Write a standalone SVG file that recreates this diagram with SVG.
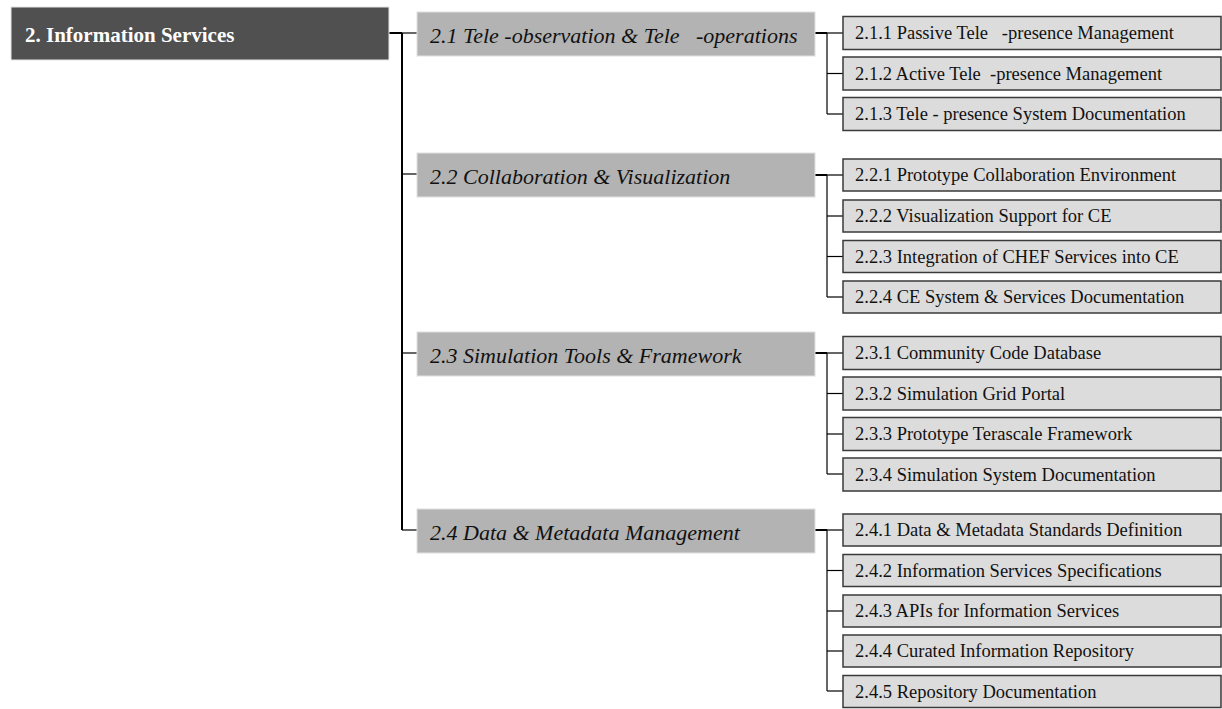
<svg xmlns="http://www.w3.org/2000/svg" width="1222" height="709" viewBox="0 0 1222 709">
<style>
.root{fill:#505050;stroke:#e6e6e6;stroke-width:1}
.l2{fill:#b3b3b3;stroke:#e0e0e0;stroke-width:1}
.l3{fill:#dcdcdc;stroke:#3a3a3a;stroke-width:1.5}
.t1{font-family:"Liberation Serif","Times New Roman",serif;font-weight:bold;font-size:21px;fill:#ffffff}
.t2{font-family:"Liberation Serif","Times New Roman",serif;font-style:italic;font-size:22px;fill:#111111}
.t3{font-family:"Liberation Serif","Times New Roman",serif;font-size:18.5px;fill:#111111}
.thick{stroke:#000;stroke-width:2;fill:none}
.thin{stroke:#000;stroke-width:1.2;fill:none}
</style>
<rect width="1222" height="709" fill="#ffffff"/>
<g id="connectors">
<line class="thick" x1="389" y1="33" x2="402" y2="33"/>
<line class="thin" x1="402" y1="33" x2="417" y2="33"/>
<line class="thick" x1="402" y1="33" x2="402" y2="530"/>
<line class="thin" x1="402" y1="174" x2="417" y2="174"/>
<line class="thin" x1="402" y1="353" x2="417" y2="353"/>
<line class="thin" x1="402" y1="530" x2="417" y2="530"/>
<line class="thick" x1="815" y1="33" x2="827" y2="33"/>
<line class="thin" x1="827" y1="33" x2="827" y2="114"/>
<line class="thin" x1="827" y1="33" x2="843" y2="33"/>
<line class="thin" x1="827" y1="73.5" x2="843" y2="73.5"/>
<line class="thin" x1="827" y1="114" x2="843" y2="114"/>
<line class="thick" x1="815" y1="175" x2="827" y2="175"/>
<line class="thin" x1="827" y1="175" x2="827" y2="297"/>
<line class="thin" x1="827" y1="175" x2="843" y2="175"/>
<line class="thin" x1="827" y1="216" x2="843" y2="216"/>
<line class="thin" x1="827" y1="256.5" x2="843" y2="256.5"/>
<line class="thin" x1="827" y1="297" x2="843" y2="297"/>
<line class="thick" x1="815" y1="353" x2="827" y2="353"/>
<line class="thin" x1="827" y1="353" x2="827" y2="474"/>
<line class="thin" x1="827" y1="353" x2="843" y2="353"/>
<line class="thin" x1="827" y1="393.5" x2="843" y2="393.5"/>
<line class="thin" x1="827" y1="434" x2="843" y2="434"/>
<line class="thin" x1="827" y1="474" x2="843" y2="474"/>
<line class="thick" x1="815" y1="530" x2="827" y2="530"/>
<line class="thin" x1="827" y1="530" x2="827" y2="691"/>
<line class="thin" x1="827" y1="530" x2="843" y2="530"/>
<line class="thin" x1="827" y1="570.5" x2="843" y2="570.5"/>
<line class="thin" x1="827" y1="611" x2="843" y2="611"/>
<line class="thin" x1="827" y1="651" x2="843" y2="651"/>
<line class="thin" x1="827" y1="691" x2="843" y2="691"/>
</g>
<g id="n2"><rect class="root" x="11" y="7" width="378" height="53"/><text class="t1" x="25" y="41.5">2. Information Services</text></g>
<g id="n2_1"><rect class="l2" x="417" y="12" width="398" height="44"/><text class="t2" x="430" y="43" xml:space="preserve">2.1 Tele -observation &amp; Tele   -operations</text></g>
<g id="n2_2"><rect class="l2" x="417" y="153" width="398" height="44"/><text class="t2" x="430" y="184">2.2 Collaboration &amp; Visualization</text></g>
<g id="n2_3"><rect class="l2" x="417" y="332" width="398" height="44"/><text class="t2" x="430" y="363">2.3 Simulation Tools &amp; Framework</text></g>
<g id="n2_4"><rect class="l2" x="417" y="509" width="398" height="44"/><text class="t2" x="430" y="540">2.4 Data &amp; Metadata Management</text></g>

<g id="n2_1_1"><rect class="l3" x="843" y="16.5" width="378" height="33"/><text class="t3" x="855" y="39" xml:space="preserve">2.1.1 Passive Tele   -presence Management</text></g>
<g id="n2_1_2"><rect class="l3" x="843" y="57" width="378" height="33"/><text class="t3" x="855" y="79.5" xml:space="preserve">2.1.2 Active Tele  -presence Management</text></g>
<g id="n2_1_3"><rect class="l3" x="843" y="97.5" width="378" height="33"/><text class="t3" x="855" y="120">2.1.3 Tele - presence System Documentation</text></g>

<g id="n2_2_1"><rect class="l3" x="843" y="159" width="378" height="32"/><text class="t3" x="855" y="181">2.2.1 Prototype Collaboration Environment</text></g>
<g id="n2_2_2"><rect class="l3" x="843" y="200" width="378" height="32"/><text class="t3" x="855" y="222">2.2.2 Visualization Support for CE</text></g>
<g id="n2_2_3"><rect class="l3" x="843" y="240.5" width="378" height="32"/><text class="t3" x="855" y="262.5">2.2.3 Integration of CHEF Services into CE</text></g>
<g id="n2_2_4"><rect class="l3" x="843" y="281" width="378" height="32"/><text class="t3" x="855" y="303">2.2.4 CE System &amp; Services Documentation</text></g>

<g id="n2_3_1"><rect class="l3" x="843" y="336.5" width="378" height="33"/><text class="t3" x="855" y="359">2.3.1 Community Code Database</text></g>
<g id="n2_3_2"><rect class="l3" x="843" y="377" width="378" height="33"/><text class="t3" x="855" y="399.5">2.3.2 Simulation Grid Portal</text></g>
<g id="n2_3_3"><rect class="l3" x="843" y="417.5" width="378" height="33"/><text class="t3" x="855" y="440">2.3.3 Prototype Terascale Framework</text></g>
<g id="n2_3_4"><rect class="l3" x="843" y="458" width="378" height="33"/><text class="t3" x="855" y="480.5">2.3.4 Simulation System Documentation</text></g>

<g id="n2_4_1"><rect class="l3" x="843" y="514" width="378" height="32"/><text class="t3" x="855" y="536">2.4.1 Data &amp; Metadata Standards Definition</text></g>
<g id="n2_4_2"><rect class="l3" x="843" y="554.5" width="378" height="32"/><text class="t3" x="855" y="576.5">2.4.2 Information Services Specifications</text></g>
<g id="n2_4_3"><rect class="l3" x="843" y="595" width="378" height="32"/><text class="t3" x="855" y="617">2.4.3 APIs for Information Services</text></g>
<g id="n2_4_4"><rect class="l3" x="843" y="635" width="378" height="32"/><text class="t3" x="855" y="657">2.4.4 Curated Information Repository</text></g>
<g id="n2_4_5"><rect class="l3" x="843" y="675.5" width="378" height="32"/><text class="t3" x="855" y="697.5">2.4.5 Repository Documentation</text></g>
</svg>
